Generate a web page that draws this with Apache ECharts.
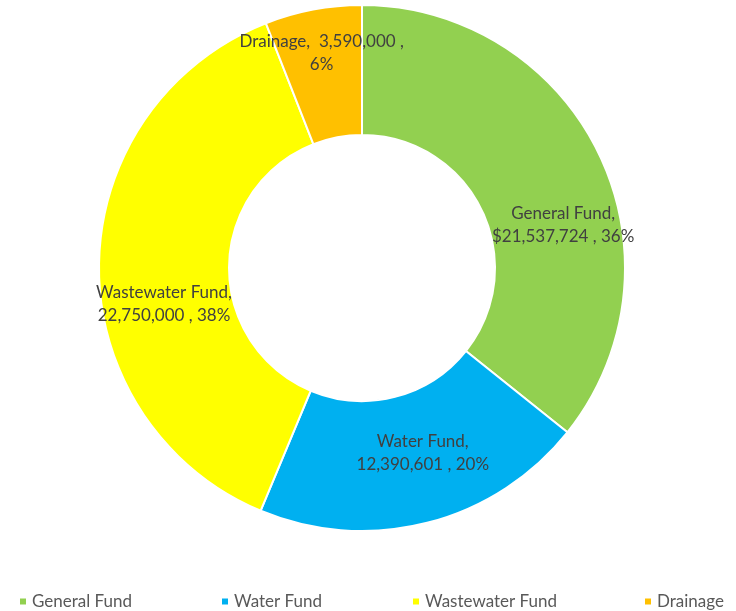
<!DOCTYPE html>
<html>
<head>
<meta charset="utf-8">
<script src="https://cdn.jsdelivr.net/npm/echarts@6/dist/echarts.min.js"></script>
<style>
  html, body { margin: 0; padding: 0; background: #fff; }
  #chart { width: 736px; height: 611px; }
</style>
</head>
<body>
<div id="chart"></div>
<script>
// fund names, amounts and the percentages printed on the labels
const funds = ["General Fund", "Water Fund", "Wastewater Fund", "Drainage"];
const amounts = [21537724, 12390601, 22750000, 3590000];
const percents = [36, 20, 38, 6];

// styling
const colors = ["#92D050", "#00B0F0", "#FFFF00", "#FFC000"];
const legendLeft = [13, 215, 406, 638];
const labelOffsets = [[20, 44], [11, -10], [3, 38], [-3, -17]];

const fmt = (v) => v.toLocaleString("en-US");

const chart = echarts.init(document.getElementById("chart"));

const option = {
  animation: false,
  textStyle: { fontFamily: "Lato, sans-serif" },
  legend: funds.map((name, i) => ({
    data: [name],
    left: legendLeft[i],
    top: 588,
    icon: "rect",
    itemWidth: 8,
    itemHeight: 8,
    itemGap: 6,
    selectedMode: false,
    textStyle: { color: "#595959", fontSize: 17, fontFamily: "Lato, sans-serif" }
  })),
  series: [
    {
      type: "pie",
      center: [362, 268],
      radius: [133, 263],
      startAngle: 90,
      clockwise: true,
      itemStyle: { borderColor: "#fff", borderWidth: 2 },
      label: {
        show: true,
        position: "inside",
        color: "#404040",
        fontSize: 17,
        lineHeight: 23,
        fontFamily: "Lato, sans-serif",
        formatter: (p) => {
          const i = p.dataIndex;
          const pct = percents[i] + "%";
          if (i === 0) return p.name + ",\n$" + fmt(p.value) + " , " + pct;
          if (i === 3) return p.name + ",  " + fmt(p.value) + " ,\n" + pct;
          return p.name + ",\n" + fmt(p.value) + " , " + pct;
        }
      },
      labelLine: { show: false },
      emphasis: { disabled: true },
      data: funds.map((name, i) => ({
        name: name,
        value: amounts[i],
        itemStyle: { color: colors[i] },
        label: { offset: labelOffsets[i] }
      }))
    }
  ]
};

chart.setOption(option);
</script>
</body>
</html>
